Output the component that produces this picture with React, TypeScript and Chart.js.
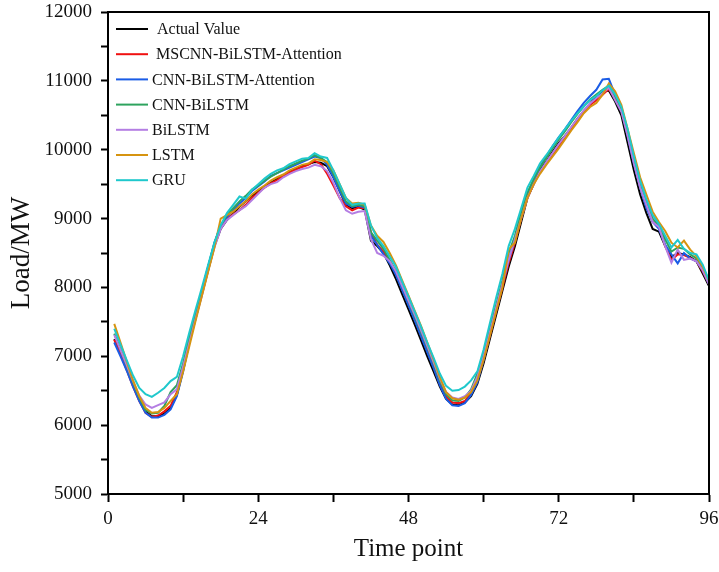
import React, { useEffect, useRef } from "react";
import { Chart, registerables } from "chart.js";

Chart.register(...registerables);

const timePoints: number[] = Array.from({ length: 96 }, (_, i) => i + 1);

const seriesLabels = [
  "Actual Value",
  "MSCNN-BiLSTM-Attention",
  "CNN-BiLSTM-Attention",
  "CNN-BiLSTM",
  "BiLSTM",
  "LSTM",
  "GRU",
];

const seriesColors = ["#000000", "#f01010", "#1a5ce6", "#2ea35e", "#b47ee3", "#d69410", "#1fc8cc"];

const actualValue = [
  7250, 7050, 6830, 6600, 6390, 6200, 6130, 6130, 6170, 6250, 6440, 6800,
  7200, 7550, 7900, 8250, 8600, 8850, 8980, 9070, 9170, 9250, 9330, 9400,
  9460, 9520, 9580, 9630, 9680, 9720, 9760, 9790, 9820, 9810, 9760, 9600,
  9400, 9200, 9150, 9170, 9130, 8680, 8600, 8500, 8320, 8120, 7900, 7680,
  7460, 7230, 7000, 6780, 6560, 6380, 6300, 6290, 6330, 6420, 6600, 6900,
  7250, 7600, 7950, 8300, 8600, 8950, 9300, 9500, 9700, 9830, 9970, 10100,
  10200, 10320, 10450, 10560, 10670, 10780, 10840, 10860, 10700, 10500, 10100, 9700,
  9350, 9080, 8850, 8810, 8600, 8440, 8500, 8480, 8440, 8380, 8200, 8020,
];

const mscnnBiLstmAttention = [
  7240, 7030, 6800, 6560, 6350, 6180, 6120, 6140, 6200, 6280, 6480, 6850,
  7250, 7600, 7950, 8300, 8620, 8880, 9000, 9060, 9120, 9200, 9300, 9380,
  9450, 9510, 9560, 9620, 9670, 9710, 9750, 9780, 9840, 9790, 9650, 9480,
  9300, 9180, 9120, 9160, 9150, 8800, 8620, 8520, 8380, 8200, 7980, 7760,
  7540, 7310, 7080, 6850, 6600, 6420, 6330, 6320, 6350, 6470, 6650, 6950,
  7300, 7650, 8000, 8350, 8650, 9000, 9300, 9500, 9680, 9800, 9930, 10050,
  10180, 10300, 10420, 10550, 10650, 10720, 10800, 10880, 10750, 10580, 10250, 9850,
  9500, 9200, 8950, 8900, 8600, 8400, 8480, 8470, 8430, 8380, 8230, 8050,
];

const cnnBiLstmAttention = [
  7200, 7000, 6790, 6560, 6350, 6180, 6110, 6110, 6150, 6230, 6420, 6780,
  7200, 7580, 7950, 8300, 8650, 8900, 9020, 9120, 9220, 9300, 9400, 9470,
  9540, 9620, 9660, 9700, 9740, 9780, 9820, 9860, 9900, 9880, 9780, 9600,
  9400, 9220, 9170, 9190, 9160, 8750, 8620, 8480, 8350, 8180, 7960, 7740,
  7520, 7290, 7060, 6830, 6580, 6380, 6290, 6280, 6320, 6440, 6620, 6950,
  7320, 7700, 8050, 8400, 8700, 9050, 9350, 9570, 9750, 9900, 10050, 10180,
  10300, 10430, 10560, 10680, 10780, 10870, 11020, 11030, 10800, 10600, 10200, 9800,
  9450, 9150, 8950, 8850, 8620, 8480, 8350, 8500, 8420, 8380, 8250, 8050,
];

const cnnBiLstm = [
  7330, 7100, 6860, 6620, 6400, 6220, 6170, 6180, 6280, 6480, 6580, 6900,
  7280, 7620, 7950, 8300, 8640, 8900, 9050, 9150, 9250, 9330, 9420, 9480,
  9550, 9610, 9660, 9710, 9760, 9800, 9840, 9870, 9920, 9880, 9820, 9650,
  9450, 9250, 9180, 9200, 9180, 8800, 8680, 8560, 8400, 8240, 8020, 7800,
  7580, 7360, 7130, 6900, 6650, 6450, 6360, 6350, 6400, 6520, 6750, 7050,
  7400, 7750, 8100, 8500, 8750, 9100, 9380, 9570, 9740, 9880, 10020, 10150,
  10270, 10400, 10520, 10630, 10730, 10800, 10870, 10930, 10780, 10600, 10250, 9850,
  9500, 9250, 9000, 8900, 8700, 8520, 8580, 8560, 8480, 8420, 8280, 8080,
];

const biLstm = [
  7310, 7090, 6870, 6640, 6430, 6300, 6250, 6290, 6330, 6450, 6520, 6850,
  7200, 7550, 7880, 8250, 8580, 8850, 8980, 9050, 9120, 9180, 9270, 9360,
  9450, 9500, 9530, 9600, 9650, 9690, 9720, 9740, 9780, 9760, 9690, 9520,
  9300, 9120, 9070, 9100, 9110, 8700, 8500, 8460, 8380, 8230, 8020, 7810,
  7600, 7380, 7150, 6920, 6680, 6480, 6400, 6380, 6420, 6500, 6700, 7000,
  7350, 7700, 8050, 8400, 8700, 9000, 9300, 9500, 9680, 9820, 9950, 10080,
  10200, 10330, 10450, 10570, 10670, 10750, 10820, 10900, 10720, 10550, 10200, 9800,
  9450, 9200, 8950, 8880, 8600, 8360, 8550, 8400, 8420, 8380, 8250, 8050,
];

const lstm = [
  7470, 7200, 6920, 6650, 6420, 6250, 6180, 6190, 6250, 6350, 6450, 6780,
  7150, 7520, 7880, 8230, 8580, 9000, 9050, 9100, 9180, 9250, 9350, 9420,
  9480, 9550, 9600, 9640, 9700, 9740, 9780, 9800, 9860, 9850, 9820, 9700,
  9500, 9300, 9220, 9230, 9200, 8900, 8750, 8660, 8500, 8320, 8100, 7880,
  7660, 7440, 7200, 6960, 6700, 6480, 6390, 6370, 6400, 6480, 6650, 6950,
  7300, 7650, 8000, 8550, 8650, 9000, 9300, 9500, 9650, 9780, 9900, 10020,
  10150, 10280, 10400, 10530, 10620, 10680, 10800, 10960, 10850, 10650, 10300, 9950,
  9600, 9350, 9100, 8950, 8820, 8650, 8580, 8680, 8550, 8450, 8300, 8100,
];

const gru = [
  7400, 7170, 6940, 6720, 6540, 6450, 6410, 6470, 6540, 6640, 6700, 7000,
  7350, 7680, 8000, 8330, 8650, 8900, 9080, 9200, 9320, 9290, 9420, 9500,
  9580, 9650, 9700, 9730, 9790, 9830, 9870, 9880, 9950, 9900, 9880, 9700,
  9500, 9300, 9200, 9220, 9220, 8900, 8720, 8600, 8450, 8300, 8080, 7870,
  7650, 7430, 7200, 6980, 6750, 6570, 6500, 6510, 6560, 6650, 6780, 7100,
  7480, 7850, 8200, 8600, 8850, 9150, 9450, 9620, 9800, 9920, 10050, 10180,
  10300, 10420, 10530, 10630, 10720, 10780, 10860, 10930, 10800, 10620, 10300, 9900,
  9550, 9280, 9050, 8920, 8750, 8580, 8690, 8560, 8500, 8480, 8330, 8100,
];

const seriesValues = [actualValue, mscnnBiLstmAttention, cnnBiLstmAttention, cnnBiLstm, biLstm, lstm, gru];

const xMajorTicks = [0, 24, 48, 72, 96];
const yMajorTicks = [5000, 6000, 7000, 8000, 9000, 10000, 11000, 12000];

const FONT = '"Liberation Serif", "Times New Roman", serif';
const legendTextX = [49, 48, 44, 44, 44, 44, 44];

const frameLegendPlugin = {
  id: "frameLegend",
  afterDraw(chart: any) {
    const { ctx, chartArea } = chart;
    const { left, top, right, bottom } = chartArea;
    ctx.save();
    ctx.strokeStyle = "#000";
    ctx.lineWidth = 2;
    ctx.beginPath();
    ctx.moveTo(left - 1, top);
    ctx.lineTo(right, top);
    ctx.lineTo(right, bottom + 1);
    ctx.stroke();
    chart.data.datasets.forEach((ds: any, i: number) => {
      const y = top + 17 + i * 25.2;
      ctx.strokeStyle = ds.borderColor;
      ctx.lineWidth = 2;
      ctx.beginPath();
      ctx.moveTo(left + 8, y);
      ctx.lineTo(left + 40, y);
      ctx.stroke();
      ctx.fillStyle = "#111";
      ctx.font = `16px ${FONT}`;
      ctx.textBaseline = "middle";
      ctx.textAlign = "left";
      ctx.fillText(ds.label, left + legendTextX[i], y + 1);
    });
    ctx.restore();
  },
};

export default function App() {
  const canvasRef = useRef<HTMLCanvasElement | null>(null);

  useEffect(() => {
    const canvas = canvasRef.current;
    if (!canvas) return;
    const datasets = seriesLabels.map((label, i) => ({
      label,
      data: timePoints.map((t, k) => ({ x: t, y: seriesValues[i][k] })),
      borderColor: seriesColors[i],
      backgroundColor: seriesColors[i],
      borderWidth: 2,
      pointRadius: 0,
      tension: 0,
      fill: false,
      order: seriesLabels.length - i,
    }));
    const chart = new Chart(canvas, {
      type: "line",
      data: { datasets },
      plugins: [frameLegendPlugin],
      options: {
        responsive: false,
        animation: false,
        devicePixelRatio: 1,
        layout: { padding: { left: 0, right: 10, top: 12, bottom: 0 } },
        plugins: { legend: { display: false }, tooltip: { enabled: false } },
        scales: {
          x: {
            type: "linear",
            min: 0,
            max: 96,
            afterFit: (scale: any) => {
              scale.height = 78;
              scale.paddingLeft = 0;
              scale.paddingRight = 0;
            },
            afterBuildTicks: (scale: any) => {
              const t = [];
              for (let v = 0; v <= 96; v += 12) t.push({ value: v });
              scale.ticks = t;
            },
            ticks: {
              autoSkip: false,
              maxRotation: 0,
              color: "#111",
              padding: 6,
              font: { family: FONT, size: 19 },
              callback: (v: any) => (xMajorTicks.includes(Number(v)) ? String(v) : ""),
            },
            grid: {
              drawOnChartArea: false,
              drawTicks: true,
              tickLength: 8,
              tickColor: "#000",
              tickWidth: 2,
            },
            border: { display: true, color: "#000", width: 2 },
            title: {
              display: true,
              text: "Time point",
              color: "#111",
              font: { family: FONT, size: 25 },
              padding: { top: 0, bottom: 8 },
            },
          },
          y: {
            type: "linear",
            min: 5000,
            max: 12000,
            afterFit: (scale: any) => {
              scale.width = 108;
              scale.paddingTop = 0;
              scale.paddingBottom = 0;
            },
            afterBuildTicks: (scale: any) => {
              const t = [];
              for (let v = 5000; v <= 12000; v += 500) t.push({ value: v });
              scale.ticks = t;
            },
            ticks: {
              autoSkip: false,
              color: "#111",
              padding: 9,
              font: { family: FONT, size: 19 },
              callback: (v: any) => (yMajorTicks.includes(Number(v)) ? String(v) : ""),
            },
            grid: {
              drawOnChartArea: false,
              drawTicks: true,
              tickLength: 7,
              tickColor: "#000",
              tickWidth: 2,
            },
            border: { display: true, color: "#000", width: 2 },
            title: {
              display: true,
              text: "Load/MW",
              color: "#111",
              font: { family: FONT, size: 27 },
              padding: { top: 6, bottom: 0 },
            },
          },
        },
      },
    } as any);
    return () => chart.destroy();
  }, []);

  return (
    <div style={{ position: "absolute", left: 0, top: 0, width: 719, height: 572, background: "#fff" }}>
      <canvas ref={canvasRef} width={719} height={572} />
    </div>
  );
}
